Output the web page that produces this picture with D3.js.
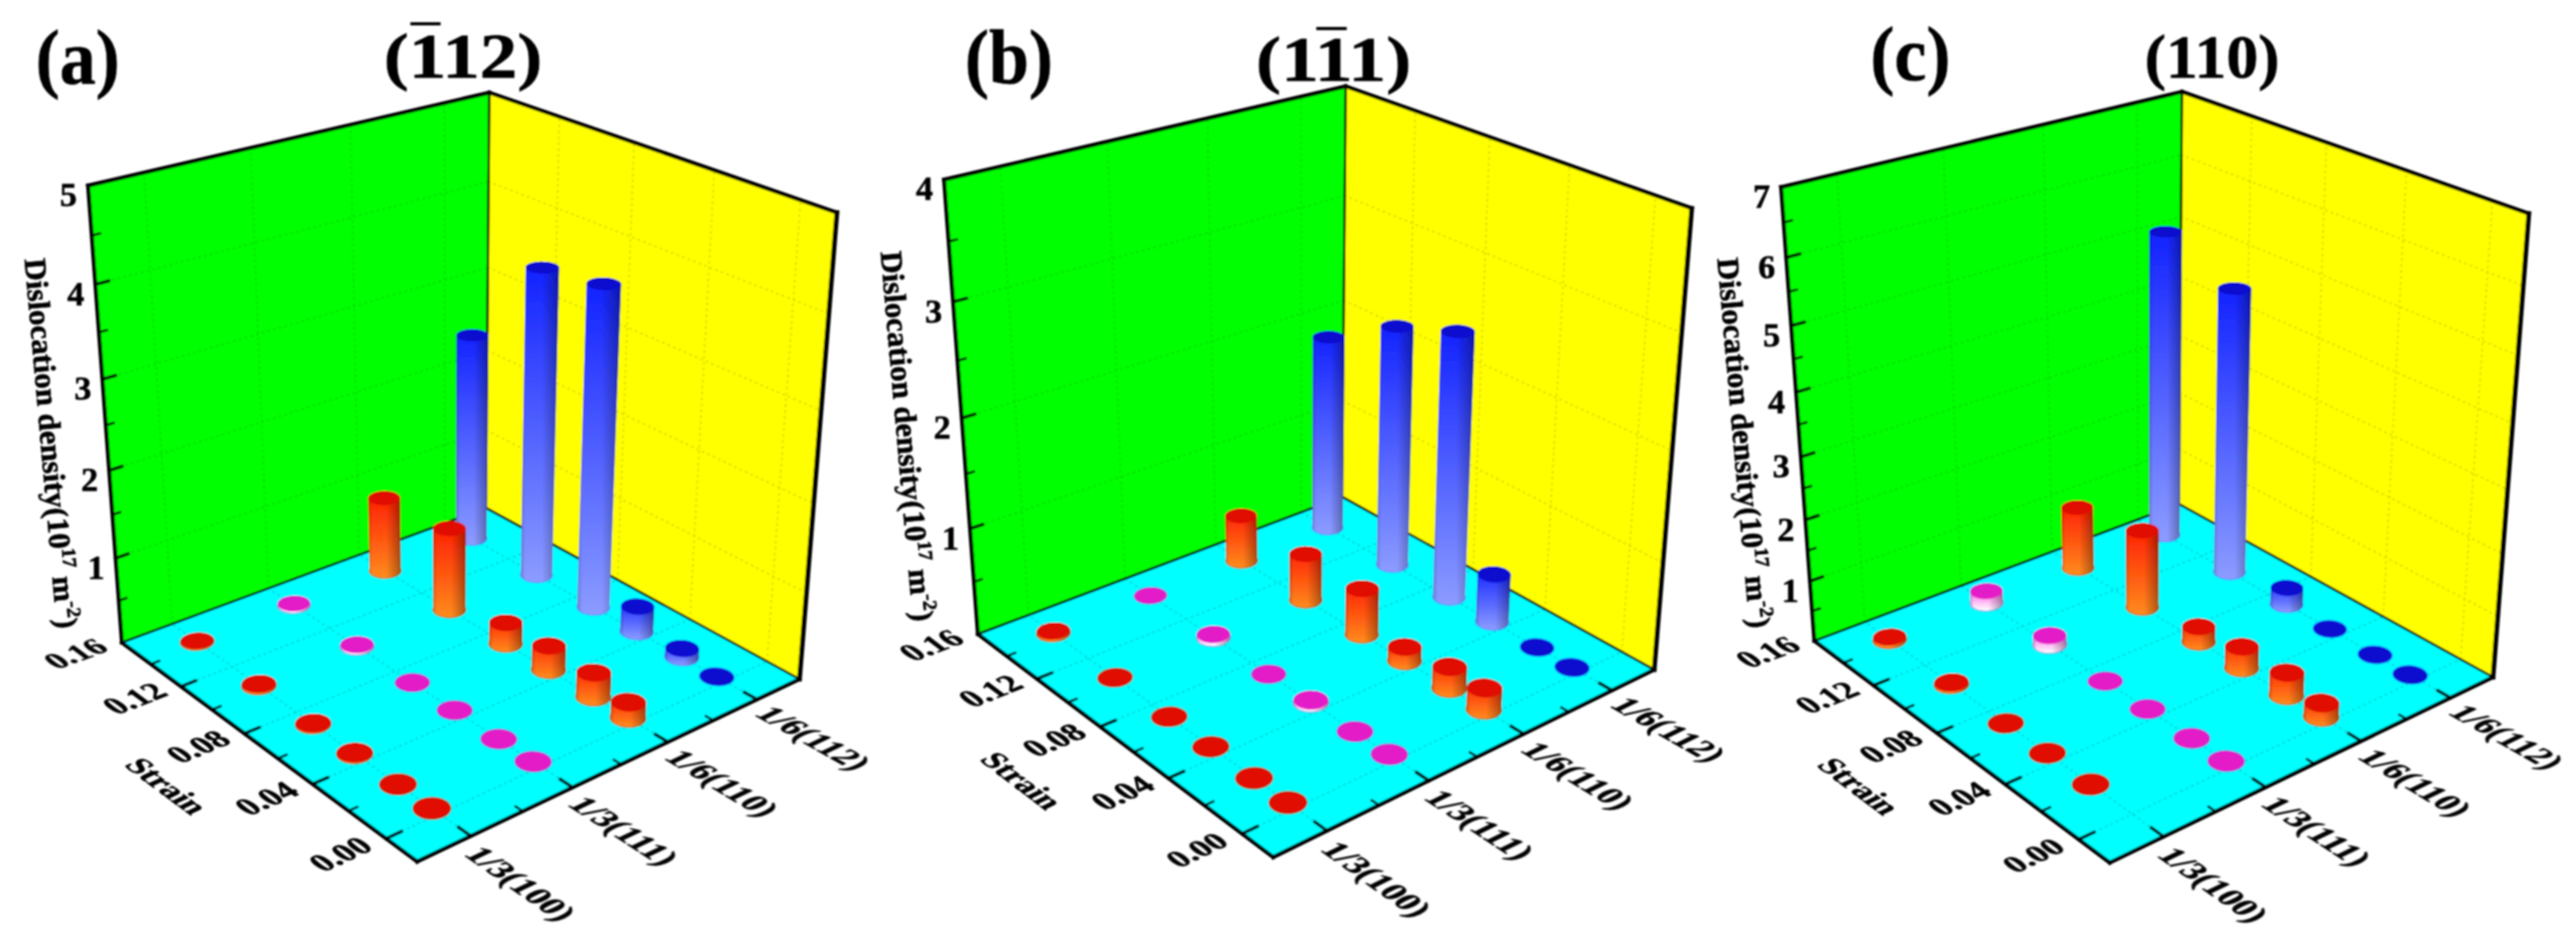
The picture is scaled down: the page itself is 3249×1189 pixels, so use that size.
<!DOCTYPE html>
<html><head><meta charset="utf-8">
<script src="https://cdn.jsdelivr.net/npm/d3@7"></script>
<style>html,body{margin:0;padding:0;background:#fff}svg{display:block}text{font-family:"Liberation Serif",serif;font-weight:bold;fill:#000;stroke:#000;stroke-width:0.7}</style>
</head><body><svg id="chart" width="3249" height="1189"></svg>
<script>
// ---- data ----
const categories = ["1/3(100)", "1/3(111)", "1/6(110)", "1/6(112)"];
const strains = [0.143, 0.103, 0.07, 0.046, 0.022, 0.004];
const strainTicks = ["0.00", "0.04", "0.08", "0.12", "0.16"];
const zTitle = "Dislocation density";
// rows follow `strains`, columns follow `categories`
const valuesA = [
  [0.01, 0.02, 0.90, 2.50],
  [0.02, 0.02, 0.98, 3.62],
  [0.01, 0.00, 0.25, 3.72],
  [0.01, 0.00, 0.28, 0.30],
  [0.00, 0.00, 0.28, 0.10],
  [0.00, 0.00, 0.18, 0.00]];
const valuesB = [
  [0.02, 0.00, 0.45, 1.90],
  [0.00, 0.03, 0.45, 2.30],
  [0.00, 0.00, 0.44, 2.50],
  [0.00, 0.02, 0.13, 0.46],
  [0.00, 0.00, 0.20, 0.00],
  [0.00, 0.00, 0.20, 0.00]];
const valuesC = [
  [0.05, 0.20, 1.05, 5.15],
  [0.03, 0.15, 1.30, 4.72],
  [0.00, 0.00, 0.25, 0.28],
  [0.00, 0.00, 0.35, 0.00],
  [0.00, 0.00, 0.37, 0.00],
  [null, 0.00, 0.22, 0.00]];
const zMaxes = [5, 4, 7];
const panelLetters = ["(a)", "(b)", "(c)"];
const panelTitles = ["(112)", "(111)", "(110)"];
const overbarredChar = [1, 2, null];

// ---- layout (screen positions of the seven visible box corners) ----
const layouts = [
  {front:[526,1089],right:[1008,853],left:[153,807],back:[614,644],rightTop:[1056,269],leftTop:[112,235],apex:[616,115],
   letter:[45,105],title:[584,98,80,200],barY:30},
  {front:[1606,1082],right:[2085,843],left:[1232,798],back:[1695,628],rightTop:[2135,263],leftTop:[1192,227],apex:[1695,108],
   letter:[1217,105],title:[1682,102,80,196],barY:36},
  {front:[2662,1089],right:[3143,853],left:[2287,806],back:[2750,637],rightTop:[3190,269],leftTop:[2247,237],apex:[2751,115],
   letter:[2359,101],title:[2790,98,78,170],barY:null}
];
const tints = [
  {top:"#e01000", a:"#ff1800", b:"#ff8c1e", edge:"#7a6a30"},
  {top:"#e41ec8", a:"#ff2ce0", b:"#ffffff", edge:"#3c78d8"},
  {top:"#e01000", a:"#ff1800", b:"#ff8c1e", edge:"#7a6a30"},
  {top:"#0a0ad0", a:"#1020ff", b:"#8c9cff", edge:"#1890ff"}
];

// projective camera solved from the box corners
function solve(A, b){
  const n=b.length, M=A.map((r,i)=>[...r,b[i]]);
  for(let i=0;i<n;i++){
    let p=i; for(let k=i+1;k<n;k++) if(Math.abs(M[k][i])>Math.abs(M[p][i])) p=k;
    [M[i],M[p]]=[M[p],M[i]];
    for(let k=0;k<n;k++){ if(k===i) continue; const f=M[k][i]/M[i][i]; for(let j=i;j<=n;j++) M[k][j]-=f*M[i][j]; }
  }
  return M.map((r,i)=>r[n]/r[i]);
}
function camera(L){
  const pts=[[[0,0,0],L.front],[[1,0,0],L.right],[[0,1,0],L.left],[[1,1,0],L.back],[[1,0,1],L.rightTop],[[0,1,1],L.leftTop],[[1,1,1],L.apex]];
  const rows=[],rhs=[];
  pts.forEach(([[X,Y,Z],[x0,y0]])=>{ const x=x0/1000,y=y0/1000;
    rows.push([X,Y,Z,1,0,0,0,0,-x*X,-x*Y,-x*Z]); rhs.push(x);
    rows.push([0,0,0,0,X,Y,Z,1,-y*X,-y*Y,-y*Z]); rhs.push(y);});
  const N=d3.range(11).map(i=>d3.range(11).map(j=>d3.sum(rows,r=>r[i]*r[j])));
  const B=d3.range(11).map(i=>d3.sum(rows,(r,k)=>r[i]*rhs[k]));
  const p=solve(N,B);
  return ([X,Y,Z])=>{const d=p[8]*X+p[9]*Y+p[10]*Z+1;
    return [1000*(p[0]*X+p[1]*Y+p[2]*Z+p[3])/d,1000*(p[4]*X+p[5]*Y+p[6]*Z+p[7])/d];};
}

const svg=d3.select("#chart");
const defs=svg.append("defs");
defs.append("filter").attr("id","soft").attr("filterUnits","userSpaceOnUse").attr("x",0).attr("y",0).attr("width",3249).attr("height",1189)
  .append("feGaussianBlur").attr("stdDeviation",0.9);
const sh=defs.append("linearGradient").attr("id","shade");
[[0,0.18],[0.12,0],[0.55,0],[0.85,0.22],[1,0.36]].forEach(([o,a])=>sh.append("stop").attr("offset",o).attr("stop-color","#000").attr("stop-opacity",a));
const root=svg.append("g").attr("filter","url(#soft)");

const catU=d3.scaleLinear().domain([0.5,4.5]).range([0,1]);
const strainV=d3.scaleLinear().domain([-0.016,0.16]).range([0,1]);
const R=0.035;

function unit(a,b){const d=[b[0]-a[0],b[1]-a[1]],l=Math.hypot(d[0],d[1]);return [d[0]/l,d[1]/l];}
const line=d3.line();

function drawPanel(values,zMax,L,idx){
  const P=camera(L), g=root.append("g");
  const zW=d3.scaleLinear().domain([0,zMax]).range([0,1]);
  const poly=(pts,fill)=>g.append("path").attr("d",line(pts.map(P))+"Z").attr("fill",fill);
  poly([[0,0,0],[1,0,0],[1,1,0],[0,1,0]],"#00ffff");
  poly([[0,1,0],[1,1,0],[1,1,1],[0,1,1]],"#00ff00");
  poly([[1,0,0],[1,1,0],[1,1,1],[1,0,1]],"#ffff00");

  const seg=(a,b,col,w,dash)=>g.append("path").attr("d",line([P(a),P(b)])).attr("stroke",col).attr("stroke-width",w)
     .attr("fill","none").attr("stroke-dasharray",dash||null).attr("stroke-linecap",dash?"round":"square");
  const dash="1.5 6";
  const zMajor=d3.range(1,zMax+1), zMinor=d3.range(0.5,zMax,1);
  const sMajor=strainTicks.map(Number), sMinor=[0.02,0.06,0.10,0.14];
  const cMajor=categories.map((_,i)=>i+1), cMinor=[1.5,2.5,3.5];

  zMajor.forEach(z=>{const w=zW(z);
    seg([0,1,w],[1,1,w],"#00dc00",2,dash); seg([1,1,w],[1,0,w],"#d8d800",2,dash);});
  cMajor.forEach(c=>{const u=catU(c);
    seg([u,1,0],[u,1,1],"#00dc00",2,dash); seg([u,0,0],[u,1,0],"#00d4d4",2,dash);});
  sMajor.slice(0,4).forEach(s=>{const v=strainV(s);
    seg([1,v,0],[1,v,1],"#d8d800",2,dash); seg([0,v,0],[1,v,0],"#00d4d4",2,dash);});

  // inner edges
  seg([0,1,0],[1,1,0],"#000",3); seg([1,0,0],[1,1,0],"#000",3); seg([1,1,0],[1,1,1],"#000",3);

  // columns, far to near
  const cells=[];
  values.forEach((row,i)=>row.forEach((val,j)=>{ if(val!==null) cells.push({i,j,val,u:catU(j+1),v:strainV(strains[i])}); }));
  cells.sort((a,b)=>(b.u+b.v)-(a.u+a.v));
  const ring=(c,w)=>d3.range(48).map(k=>{const t=k/48*2*Math.PI;return P([c.u+R*Math.cos(t),c.v+R*Math.sin(t),w]);});
  const col=g.selectAll("g.col").data(cells).join("g").attr("class","col");
  col.each(function(c,k){
    const s=d3.select(this), w=zW(c.val), base=ring(c,0), top=ring(c,w), tint=tints[c.j];
    const hull=d3.polygonHull(base.concat(top));
    const y0=d3.min(top,d=>d[1]), y1=d3.max(base,d=>d[1]);
    const id=`grad${idx}_${k}`;
    const gr=defs.append("linearGradient").attr("id",id).attr("gradientUnits","userSpaceOnUse")
      .attr("x1",0).attr("x2",0).attr("y1",y0).attr("y2",y1);
    gr.append("stop").attr("offset",0).attr("stop-color",tint.a);
    gr.append("stop").attr("offset",1).attr("stop-color",tint.b);
    s.append("path").attr("d",line(base)+"Z").attr("fill",tint.edge).attr("stroke",tint.edge).attr("stroke-width",2);
    const hp=line(hull)+"Z";
    if(c.val>0){
      s.append("path").attr("d",hp).attr("fill",`url(#${id})`);
      s.append("path").attr("d",hp).attr("fill","url(#shade)");
    }
    s.append("path").attr("d",line(top)+"Z").attr("fill",tint.top);
  });

  // outer frame
  const thick=5;
  seg([0,0,0],[1,0,0],"#000",thick); seg([0,0,0],[0,1,0],"#000",thick);
  seg([0,1,0],[0,1,1],"#000",thick); seg([1,0,0],[1,0,1],"#000",thick+1);
  seg([0,1,1],[1,1,1],"#000",thick); seg([1,1,1],[1,0,1],"#000",thick);

  // ticks
  zMajor.forEach(z=>seg([0,1,zW(z)],[0.03,1,zW(z)],"#000",4));
  zMinor.forEach(z=>seg([0,1,zW(z)],[0.018,1,zW(z)],"#000",3));
  sMajor.slice(0,4).forEach(s=>seg([0,strainV(s),0],[0.035,strainV(s),0],"#000",4));
  sMinor.forEach(s=>seg([0,strainV(s),0],[0.02,strainV(s),0],"#000",3));
  cMajor.forEach(c=>seg([catU(c),0,0],[catU(c),0.035,0],"#000",4));
  cMinor.forEach(c=>seg([catU(c),0,0],[catU(c),0.02,0],"#000",3));

  // floor-lying text
  const floorText=(pt,xA,xB,yA,yB,str,size,anchor)=>{
    const p=P(pt), ex=unit(P(xA),P(xB)), ey=unit(P(yA),P(yB));
    g.append("text").attr("text-anchor",anchor).attr("font-size",size)
     .attr("transform",`matrix(${ex[0]},${ex[1]},${ey[0]},${ey[1]},${p[0]},${p[1]})`).text(str);
  };
  sMajor.forEach((s,i)=>{const v=strainV(s);
    floorText([-0.035,v-0.012,0],[0,v,0],[1,v,0],[0,1,0],[0,0,0],strainTicks[i],41,"end");});
  cMajor.forEach((c,i)=>{const u=catU(c);
    floorText([u-0.048,-0.035,0],[u,1,0],[u,0,0],[1,0,0],[0,0,0],categories[i],43,"start");});
  floorText([-0.24,0.485,0],[0,1,0],[0,0,0],[1,0,0],[0,0,0],"Strain",40,"middle");

  // value labels
  zMajor.forEach(z=>{const p=P([0,1,zW(z)]);
    g.append("text").attr("x",p[0]-14).attr("y",p[1]+26).attr("text-anchor","end").attr("font-size",43).text(z);});

  // value title
  const mid=P([0,1,0.5]);
  const t=g.append("text").attr("text-anchor","middle").attr("font-size",39)
    .attr("transform",`translate(${mid[0]-82},${mid[1]+24}) rotate(85)`);
  t.append("tspan").text(zTitle+"(10");
  t.append("tspan").attr("dy",-15).attr("font-size",25).text("17");
  t.append("tspan").attr("dy",15).text(" m");
  t.append("tspan").attr("dy",-15).attr("font-size",25).text("-2");
  t.append("tspan").attr("dy",15).text(")");

  // letter + heading
  g.append("text").attr("x",L.letter[0]).attr("y",L.letter[1]).attr("font-size",97).attr("textLength",panelLetters[idx]==="(c)"?101:(panelLetters[idx]==="(b)"?111:106)).attr("lengthAdjust","spacingAndGlyphs").text(panelLetters[idx]);
  const h=g.append("text").attr("x",L.title[0]-L.title[3]/2).attr("y",L.title[1]).attr("font-size",L.title[2])
    .attr("textLength",L.title[3]).attr("lengthAdjust","spacingAndGlyphs").text(panelTitles[idx]);
  if(overbarredChar[idx]!==null){
    const e=h.node().getExtentOfChar(overbarredChar[idx]);
    g.append("path").attr("d",line([[e.x+2,L.barY],[e.x+e.width-2,L.barY]])).attr("stroke","#000").attr("stroke-width",4);
  }
}
[valuesA,valuesB,valuesC].forEach((v,i)=>drawPanel(v,zMaxes[i],layouts[i],i));
</script></body></html>
